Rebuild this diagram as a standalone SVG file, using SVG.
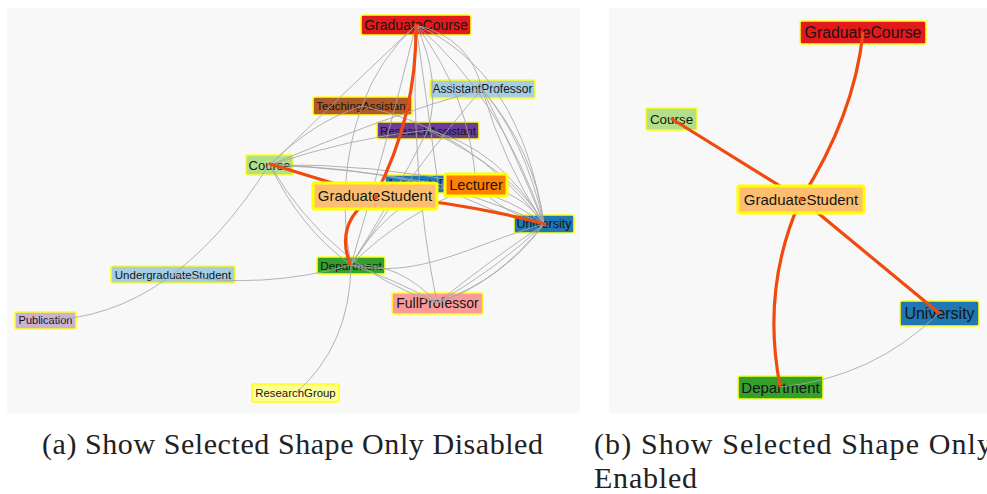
<svg xmlns="http://www.w3.org/2000/svg" width="987" height="494" viewBox="0 0 987 494">
<style>
.bg{fill:#f8f8f8}
.n rect{stroke:#ffff1a;stroke-width:1.6}
.n text{font-family:"Liberation Sans",Arial,sans-serif;fill:#151515;text-anchor:middle}
.sel rect{stroke:#ffff00;stroke-width:3}
.ge path{fill:none;stroke:#a6a6a6;stroke-width:0.85}
.oe path{fill:none;stroke:#f04a0e;stroke-width:3.2;stroke-linecap:round}
.cap{font-family:"Liberation Serif","Times New Roman",serif;font-size:30px;fill:#222}
</style>
<rect class="bg" x="7" y="8" width="573" height="405"/>
<rect class="bg" x="609" y="8" width="378" height="405"/>

<!-- Left panel: base nodes -->
<g id="a-nodes">
<g id="a-GraduateCourse" class="n"><rect x="361" y="15" width="110" height="20" rx="2" fill="#e31a1c"/><text x="416" y="29.8" font-size="14">GraduateCourse</text></g>
<g id="a-AssistantProfessor" class="n"><rect x="430" y="80" width="105" height="18" rx="2" fill="#a6cee3"/><text x="482.5" y="93.2" font-size="12">AssistantProfessor</text></g>
<g id="a-TeachingAssistant" class="n"><rect x="313" y="97" width="99" height="18" rx="2" fill="#b15928"/><text x="362.5" y="110" font-size="11.5">TeachingAssistant</text></g>
<g id="a-ResearchAssistant" class="n"><rect x="377" y="122" width="102" height="17" rx="2" fill="#6a3d9a"/><text x="428" y="134.6" font-size="11.5">ResearchAssistant</text></g>
<g id="a-Course" class="n"><rect x="246" y="155" width="47" height="20" rx="2" fill="#b2df8a"/><text x="269.5" y="169.5" font-size="13">Course</text></g>
<g id="a-AssociateProfessor" class="n"><rect x="385" y="175" width="107" height="18" rx="2" fill="#1f78b4"/><text x="438.5" y="188.2" font-size="12">AssociateProfessor</text></g>
<g id="a-University" class="n"><rect x="514" y="215" width="60" height="18" rx="2" fill="#1f78b4"/><text x="544" y="228.3" font-size="12.5">University</text></g>
<g id="a-Department" class="n"><rect x="317" y="257" width="68" height="17" rx="2" fill="#33a02c"/><text x="351" y="269.6" font-size="11.8">Department</text></g>
<g id="a-FullProfessor" class="n"><rect x="392" y="293" width="91" height="21" rx="2" fill="#fb9a99"/><text x="437.5" y="308.4" font-size="14">FullProfessor</text></g>
<g id="a-UndergraduateStudent" class="n"><rect x="111" y="266" width="124" height="17" rx="2" fill="#a6cee3"/><text x="173" y="278.6" font-size="11.5">UndergraduateStudent</text></g>
<g id="a-Publication" class="n"><rect x="15" y="312" width="61" height="17" rx="2" fill="#cab2d6"/><text x="45.5" y="324.3" font-size="11">Publication</text></g>
<g id="a-ResearchGroup" class="n"><rect x="252" y="384" width="87" height="18" rx="2" fill="#ffff99"/><text x="295.5" y="397" font-size="11.4">ResearchGroup</text></g>
</g>

<!-- Left panel: connectors -->
<g id="a-edges">
<g class="ge">
<path d="M416,25 Q345,92 270,165"/>
<path d="M416,25 Q378,60 362,106"/>
<path d="M416,25 Q470,38 482,89"/>
<path d="M416,25 Q520,70 544,224"/>
<path d="M416,25 Q500,95 544,224"/>
<path d="M416,25 Q442,80 428,130"/>
<path d="M416,25 Q428,110 438,184"/>
<path d="M416,25 Q470,95 476,185"/>
<path d="M416,25 Q410,170 437,303"/>
<path d="M416,25 Q385,150 351,265"/>
<path d="M482,89 Q380,118 270,165"/>
<path d="M482,89 Q420,160 351,265"/>
<path d="M482,89 Q525,140 544,224"/>
<path d="M482,89 Q535,152 544,224"/>
<path d="M482,89 Q515,152 544,224"/>
<path d="M482,89 Q503,162 544,224"/>
<path d="M362,106 Q312,122 270,165"/>
<path d="M362,106 Q335,180 351,265"/>
<path d="M362,106 Q470,128 544,224"/>
<path d="M428,130 Q350,138 270,165"/>
<path d="M428,130 Q500,148 544,224"/>
<path d="M428,130 Q515,172 544,224"/>
<path d="M428,130 Q392,200 351,265"/>
<path d="M270,165 Q352,168 438,184"/>
<path d="M270,165 Q372,163 476,185"/>
<path d="M270,165 Q420,168 544,224"/>
<path d="M270,165 Q300,228 351,265"/>
<path d="M270,165 Q330,268 437,303"/>
<path d="M269,165 Q172,318 46,320"/>
<path d="M438,184 Q500,190 544,224"/>
<path d="M438,184 Q490,214 544,224"/>
<path d="M438,184 Q382,212 351,265"/>
<path d="M476,185 Q520,190 544,224"/>
<path d="M476,185 Q505,215 544,224"/>
<path d="M476,185 Q400,215 351,265"/>
<path d="M437,303 Q495,285 544,224"/>
<path d="M437,303 Q505,278 544,224"/>
<path d="M437,303 Q498,268 544,224"/>
<path d="M437,303 Q488,262 544,224"/>
<path d="M351,265 Q400,262 437,303"/>
<path d="M351,265 Q392,278 437,303"/>
<path d="M351,265 C420,280 470,245 544,224"/>
<path d="M173,275 Q262,290 351,265"/>
<path d="M351,265 Q350,345 296,393"/>
</g>
<g class="oe">
<path d="M270,164 L375,196"/>
<path d="M416,25 Q417,116 375,196"/>
<path d="M375,196 Q334,221 350,264"/>
<path d="M375,196 Q462,202 545,224"/>
</g>
</g>

<!-- Left panel: top nodes -->
<g id="a-Lecturer" class="n sel"><rect x="445" y="174" width="62" height="22" rx="2" fill="#ff7f00" stroke-width="2.4"/><text x="476" y="190" font-size="14.6">Lecturer</text></g>
<g id="a-GraduateStudent" class="n sel"><rect x="313" y="183" width="124" height="26" rx="2" fill="#fdbf6f"/><text x="375" y="201.3" font-size="15">GraduateStudent</text></g>
<circle cx="376" cy="197" r="2.2" fill="#f04a0e"/>

<!-- Right panel: base nodes -->
<g id="b-nodes">
<g id="b-GraduateCourse" class="n"><rect x="800" y="21" width="126" height="23" rx="2" fill="#e31a1c"/><text x="863" y="38" font-size="15.8">GraduateCourse</text></g>
<g id="b-Course" class="n"><rect x="646" y="108" width="51" height="22" rx="2" fill="#b2df8a"/><text x="671.5" y="123.6" font-size="13.4">Course</text></g>
<g id="b-University" class="n"><rect x="900" y="301" width="79" height="25" rx="2" fill="#1f78b4"/><text x="939.5" y="319" font-size="16">University</text></g>
<g id="b-Department" class="n"><rect x="738" y="376" width="85" height="23" rx="2" fill="#33a02c"/><text x="780.5" y="392.7" font-size="15">Department</text></g>
</g>

<!-- Right panel: connectors -->
<g id="b-edges">
<g class="ge"><path d="M939,313 Q873,378 780,387"/></g>
<g class="oe">
<path d="M672,119 L801,199"/>
<path d="M863,33 Q854,116 801,199"/>
<path d="M801,199 Q761,287 780,386"/>
<path d="M801,199 L939,313"/>
</g>
</g>

<g id="b-GraduateStudent" class="n sel"><rect x="738" y="186" width="126" height="27" rx="2" fill="#fdbf6f"/><text x="801" y="204.8" font-size="15">GraduateStudent</text></g>
<circle cx="801" cy="199.5" r="2" fill="#f04a0e"/>

<!-- Captions -->
<text class="cap" x="42" y="454" textLength="501" lengthAdjust="spacing">(a) Show Selected Shape Only Disabled</text>
<text class="cap" x="594" y="454" textLength="398" lengthAdjust="spacing">(b) Show Selected Shape Only</text>
<text class="cap" x="594" y="488" textLength="103" lengthAdjust="spacing">Enabled</text>
</svg>
